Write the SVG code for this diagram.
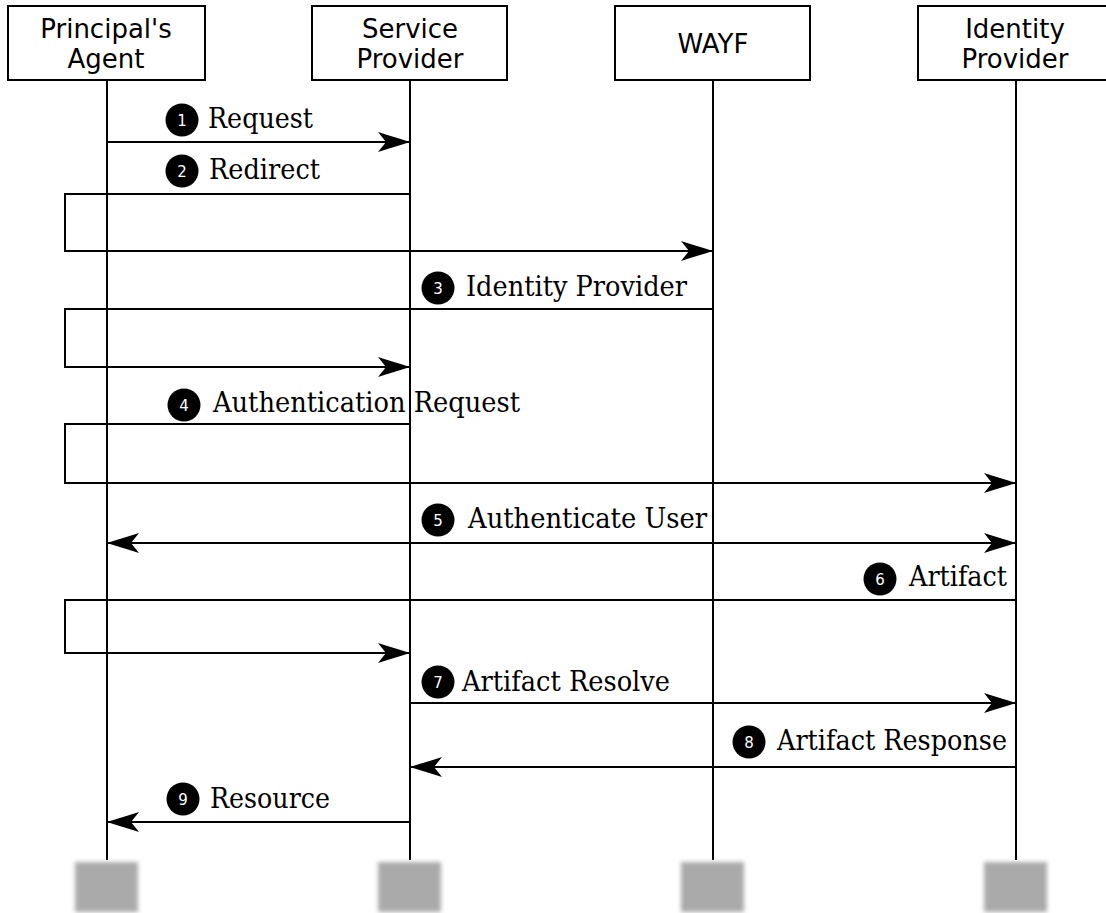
<svg xmlns="http://www.w3.org/2000/svg" width="1106" height="913" viewBox="0 0 1106 913">
  <style>
    .box { fill: #fff; stroke: #000; stroke-width: 2; }
    .title { font-family: "DejaVu Sans", sans-serif; font-size: 26px; text-anchor: middle; fill: #000; }
    .life { stroke: #000; stroke-width: 2; fill: none; }
    .msg { stroke: #000; stroke-width: 2; fill: none; }
    .lbl { font-family: "DejaVu Serif", serif; font-size: 28px; fill: #000; }
    .num { font-family: "DejaVu Sans", sans-serif; font-size: 15px; fill: #fff; text-anchor: middle; }
    .dot { fill: #000; }
    .foot { fill: #aaaaaa; filter: url(#soft); }
  </style>
  <defs>
    <marker id="arrow" markerUnits="userSpaceOnUse" viewBox="-33 -11 34 22" refX="0" refY="0" markerWidth="34" markerHeight="22" orient="auto-start-reverse">
      <path d="M0,0 C-10,-3 -22,-7 -32,-10 L-24,0 L-32,10 C-22,7 -10,3 0,0 Z" fill="#000"/>
    </marker>
    <filter id="soft" x="-20%" y="-20%" width="140%" height="140%">
      <feGaussianBlur stdDeviation="2"/>
    </filter>
  </defs>
  <rect width="1106" height="913" fill="#fff"/>

  <!-- lifelines -->
  <g id="lifelines">
    <line class="life" x1="107" y1="80" x2="107" y2="860"/>
    <line class="life" x1="410" y1="80" x2="410" y2="860"/>
    <line class="life" x1="713" y1="80" x2="713" y2="860"/>
    <line class="life" x1="1016" y1="80" x2="1016" y2="860"/>
  </g>

  <!-- participants -->
  <g id="principal">
    <rect class="box" x="8" y="6" width="197" height="74"/>
    <text class="title" x="106" y="38">Principal's</text>
    <text class="title" x="106" y="68">Agent</text>
  </g>
  <g id="sp">
    <rect class="box" x="312" y="6" width="195" height="74"/>
    <text class="title" x="410" y="38">Service</text>
    <text class="title" x="410" y="68">Provider</text>
  </g>
  <g id="wayf">
    <rect class="box" x="615" y="6" width="195" height="74"/>
    <text class="title" x="713" y="53">WAYF</text>
  </g>
  <g id="idp">
    <rect class="box" x="918" y="6" width="196" height="74"/>
    <text class="title" x="1015" y="38">Identity</text>
    <text class="title" x="1015" y="68">Provider</text>
  </g>

  <!-- messages -->
  <g id="connectors">
    <path class="msg" d="M107,142 H410" marker-end="url(#arrow)"/>
    <path class="msg" d="M410,194 H65 V251 H713" marker-end="url(#arrow)"/>
    <path class="msg" d="M713,309 H65 V367 H410" marker-end="url(#arrow)"/>
    <path class="msg" d="M410,424 H65 V483 H1016" marker-end="url(#arrow)"/>
    <path class="msg" d="M107,543 H1016" marker-start="url(#arrow)" marker-end="url(#arrow)"/>
    <path class="msg" d="M1016,600 H65 V653 H410" marker-end="url(#arrow)"/>
    <path class="msg" d="M410,703 H1016" marker-end="url(#arrow)"/>
    <path class="msg" d="M1016,767 H410" marker-end="url(#arrow)"/>
    <path class="msg" d="M410,822 H107" marker-end="url(#arrow)"/>
  </g>

  <!-- message labels (serif, set narrow) -->
  <g id="labels">
    <circle class="dot" cx="182" cy="120" r="16.5"/><text class="num" x="182" y="126">1</text>
    <text class="lbl" x="208" y="128" textLength="105" lengthAdjust="spacingAndGlyphs">Request</text>

    <circle class="dot" cx="182" cy="171" r="16.5"/><text class="num" x="182" y="177">2</text>
    <text class="lbl" x="209" y="179" textLength="111" lengthAdjust="spacingAndGlyphs">Redirect</text>

    <circle class="dot" cx="438" cy="288" r="16.5"/><text class="num" x="438" y="294">3</text>
    <text class="lbl" x="466" y="296" textLength="221" lengthAdjust="spacingAndGlyphs">Identity Provider</text>

    <circle class="dot" cx="184" cy="405" r="16.5"/><text class="num" x="184" y="411">4</text>
    <text class="lbl" x="213" y="412" textLength="307" lengthAdjust="spacingAndGlyphs">Authentication Request</text>

    <circle class="dot" cx="438" cy="520" r="16.5"/><text class="num" x="438" y="526">5</text>
    <text class="lbl" x="468" y="528" textLength="239" lengthAdjust="spacingAndGlyphs">Authenticate User</text>

    <circle class="dot" cx="880" cy="579" r="16.5"/><text class="num" x="880" y="585">6</text>
    <text class="lbl" x="909" y="586" textLength="98" lengthAdjust="spacingAndGlyphs">Artifact</text>

    <circle class="dot" cx="438" cy="682" r="16.5"/><text class="num" x="438" y="688">7</text>
    <text class="lbl" x="462" y="691" textLength="208" lengthAdjust="spacingAndGlyphs">Artifact Resolve</text>

    <circle class="dot" cx="749" cy="742" r="16.5"/><text class="num" x="749" y="748">8</text>
    <text class="lbl" x="777" y="750" textLength="230" lengthAdjust="spacingAndGlyphs">Artifact Response</text>

    <circle class="dot" cx="183" cy="799" r="16.5"/><text class="num" x="183" y="805">9</text>
    <text class="lbl" x="210" y="808" textLength="120" lengthAdjust="spacingAndGlyphs">Resource</text>
  </g>

  <!-- lifeline feet -->
  <g id="feet">
    <rect class="foot" x="75" y="862" width="63" height="50"/>
    <rect class="foot" x="378" y="862" width="63" height="50"/>
    <rect class="foot" x="681" y="862" width="63" height="50"/>
    <rect class="foot" x="984" y="862" width="63" height="50"/>
  </g>
</svg>
